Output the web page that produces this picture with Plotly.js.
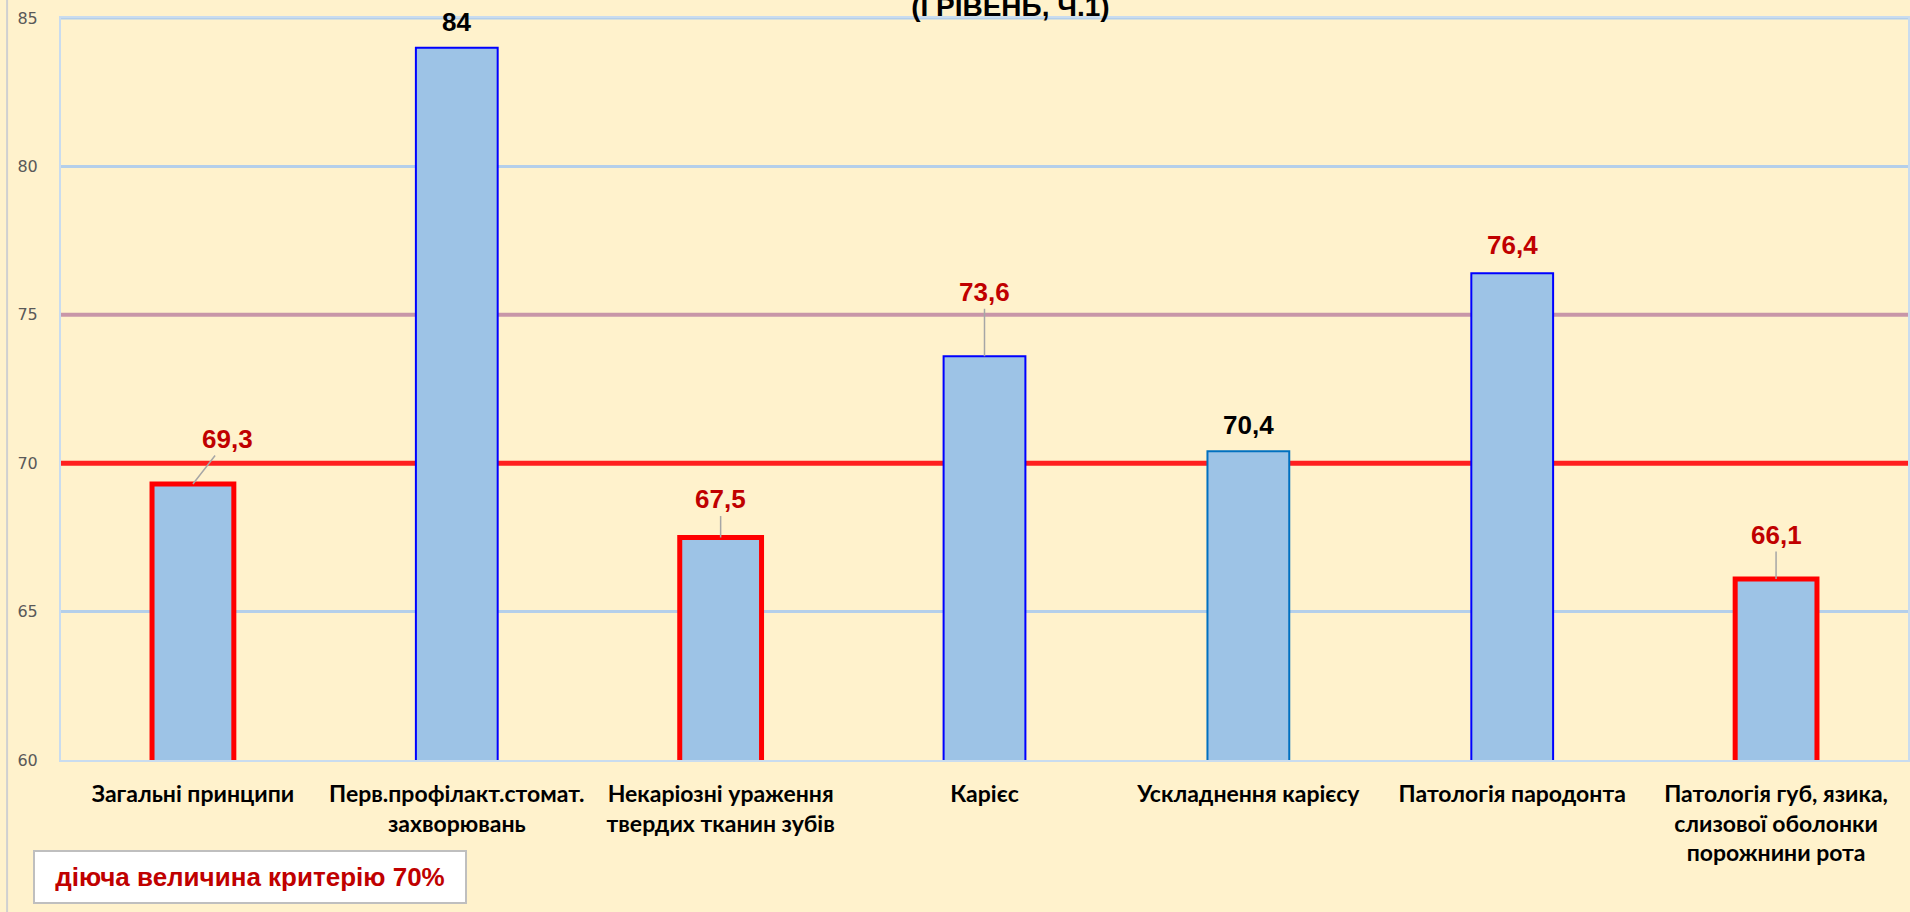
<!DOCTYPE html>
<html>
<head>
<meta charset="utf-8">
<script src="https://cdn.plot.ly/plotly-3.0.1.min.js"></script>
<style>html,body{margin:0;padding:0;background:#FFF2CC;overflow:hidden}</style>
</head>
<body>
<div id="chart" style="width:1910px;height:912px"></div>
<script>
// ---- data ----
const categories = [
  "Загальні принципи",
  "Перв.профілакт.стомат.<br>захворювань",
  "Некаріозні ураження<br>твердих тканин зубів",
  "Карієс",
  "Ускладнення карієсу",
  "Патологія пародонта",
  "Патологія губ, язика,<br>слизової оболонки<br>порожнини рота"
];
const values = [69.3, 84, 67.5, 73.6, 70.4, 76.4, 66.1];
const yTicks = [60, 65, 70, 75, 80, 85];
const blueGridLevels = [65, 80, 85];
const midLevel = 75;
const criterion = 70;
const titleText = "(І РІВЕНЬ, Ч.1)";
const legendText = "діюча величина критерію 70%";

// ---- styles ----
const outlineColors = ["#FF0000", "#0000FF", "#FF0000", "#0000FF", "#0070C0", "#0000FF", "#FF0000"];
const outlineWidths = [5, 2, 5, 2, 2, 2, 5];
const labelColors = ["#C00000", "#000000", "#C00000", "#C00000", "#000000", "#C00000", "#C00000"];
const leader = [true, false, true, true, false, false, true];
const labelAx = [35, 0, 0, 0, 0, 0, 0];
const labelAy = [-45, -26, -38, -64, -26, -28, -44];

const xIdx = categories.map((c, i) => i);

const trace = {
  type: "bar",
  x: xIdx,
  y: values,
  marker: {
    color: "#9DC3E6",
    line: { color: outlineColors, width: outlineWidths }
  },
  hoverinfo: "y"
};

const annotations = values.map((v, i) => {
  const txt = String(v).replace(".", ",");
  const base = {
    x: i, y: v, xref: "x", yref: "y",
    text: txt,
    font: { family: "Arial, Liberation Sans, sans-serif", size: 26, color: labelColors[i], weight: 700 }
  };
  if (leader[i]) {
    return Object.assign(base, {
      showarrow: true, arrowhead: 0, arrowwidth: 1.5, arrowcolor: "#A6A6A6",
      ax: labelAx[i], ay: labelAy[i], standoff: 0
    });
  }
  return Object.assign(base, { showarrow: false, yanchor: "middle", yshift: -labelAy[i] });
});

annotations.push({
  xref: "paper", yref: "paper", x: 0.1023, y: -0.1577,
  xanchor: "center", yanchor: "middle",
  text: legendText, showarrow: false,
  bgcolor: "#FFFFFF", bordercolor: "#BFBFBF", borderwidth: 2, borderpad: 1,
  width: 428, height: 48,
  font: { family: "Arial, Liberation Sans, sans-serif", size: 26, color: "#C00000", weight: 700 }
});

const hLine = (lvl, color, width) => ({
  type: "line", xref: "paper", yref: "y", x0: 0, x1: 1, y0: lvl, y1: lvl,
  line: { color: color, width: width }, layer: "below"
});

const shapes = blueGridLevels.map(l => hLine(l, "#B4CFEA", 3));
shapes.push(hLine(midLevel, "#C896A8", 4));
shapes.push(hLine(criterion, "#FF1F1F", 5));
shapes.push({ type: "line", xref: "paper", yref: "paper", x0: -0.0292, x1: -0.0292, y0: -0.21, y1: 1.03,
  line: { color: "#D0D0D0", width: 2 } });

const layout = {
  width: 1910, height: 912,
  paper_bgcolor: "#FFF2CC",
  plot_bgcolor: "#FFF2CC",
  margin: { l: 61, r: 2, t: 18, b: 152 },
  showlegend: false,
  bargap: 0.69,
  title: {
    text: titleText,
    xref: "container", yref: "container",
    x: 0.529, xanchor: "center",
    y: 0.9825, yanchor: "bottom",
    font: { family: "Arial, Liberation Sans, sans-serif", size: 28, color: "#000000", weight: 700 }
  },
  xaxis: {
    tickmode: "array",
    tickvals: xIdx,
    ticktext: categories,
    range: [-0.5, categories.length - 0.5],
    showgrid: false,
    showline: true, mirror: true, linecolor: "#C9DCEF", linewidth: 2,
    ticks: "outside", ticklen: 12, tickcolor: "rgba(0,0,0,0)",
    tickfont: { family: "Lato, Noto Sans, sans-serif", size: 23, color: "#000000", weight: 700 },
    fixedrange: true
  },
  yaxis: {
    range: [60, 85],
    tickmode: "array",
    tickvals: yTicks,
    showgrid: false,
    zeroline: false,
    showline: true, mirror: true, linecolor: "#C9DCEF", linewidth: 2,
    ticks: "outside", ticklen: 18, tickcolor: "rgba(0,0,0,0)",
    tickfont: { family: "DejaVu Sans, Verdana, sans-serif", size: 16, color: "#595959" },
    fixedrange: true
  },
  shapes: shapes,
  annotations: annotations
};

Plotly.newPlot("chart", [trace], layout, { displayModeBar: false });
</script>
</body>
</html>
